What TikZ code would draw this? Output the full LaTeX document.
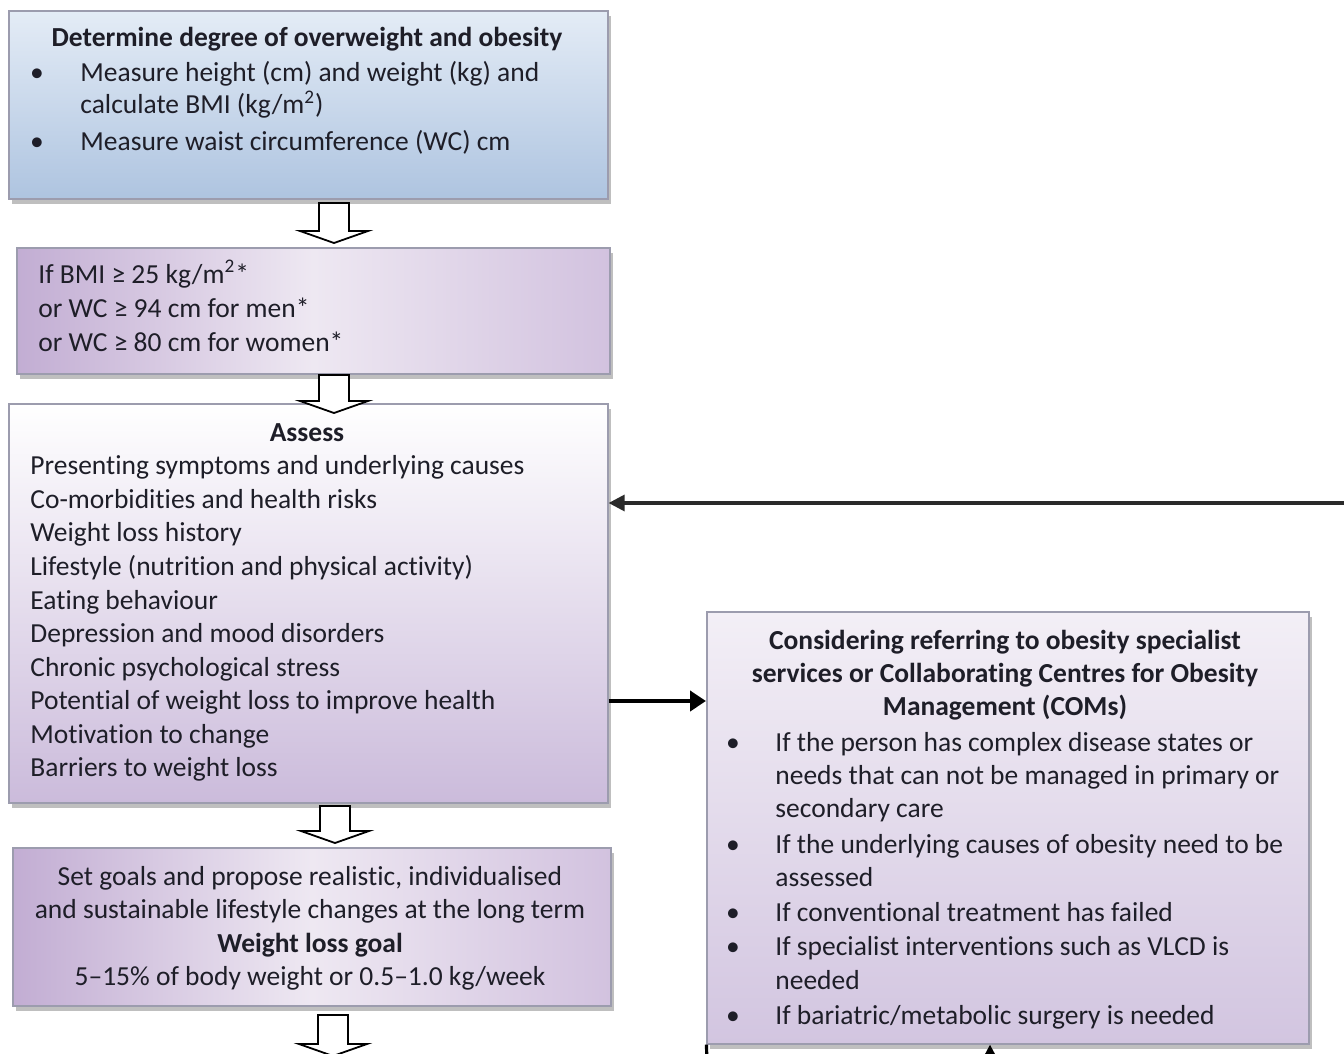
\documentclass[tikz,border=0pt]{standalone}
\usepackage{fontspec}
\setmainfont[Ligatures=NoCommon]{Carlito}
\usetikzlibrary{shadows,arrows.meta,calc}
\definecolor{bordc}{HTML}{9C9CAE}
\definecolor{blueT}{HTML}{E4ECF6}
\definecolor{blueB}{HTML}{AEC4E0}
\definecolor{purL}{HTML}{C2ADD3}
\definecolor{purM}{HTML}{EEE8F2}
\definecolor{purR}{HTML}{D2C2DF}
\definecolor{lilB}{HTML}{CBBBDB}
\definecolor{lilB2}{HTML}{D2C5E0}
\definecolor{lilT2}{HTML}{F3EFF6}
\definecolor{txtc}{HTML}{1E1E28}
\definecolor{arrc}{HTML}{2A2A2A}
\begin{document}
\begin{tikzpicture}[x=0.5pt,y=-0.5pt,
  boxbase/.style={draw=bordc, line width=0.8pt, inner sep=0pt, anchor=north west,
     drop shadow={shadow xshift=1.5pt, shadow yshift=-2.5pt, fill=black!55, opacity=0.45}},
  bluebox/.style={boxbase, top color=blueT, bottom color=blueB},
  purbox/.style={boxbase, left color=purL, right color=purR, middle color=purM},
  assbox/.style={boxbase, top color=white, bottom color=lilB},
  refbox/.style={boxbase, top color=lilT2, bottom color=lilB2},
  txt/.style={inner sep=0pt, anchor=base west, text=txtc, font=\fontsize{13.75}{16.8}\selectfont},
  ctxt/.style={txt, anchor=base},
  btxt/.style={ctxt, font=\fontsize{13.75}{16.8}\selectfont\bfseries},
  bul/.style={txt, anchor=base},
  harrow/.style={draw=black, line width=0.9pt, fill=white, line join=miter},
]
\useasboundingbox (0,0) rectangle (1344,1054);
\begin{scope}
\clip (0,0) rectangle (1344,1054);
\fill[white] (0,0) rectangle (1344,1054);

% boxes
\node[bluebox, minimum width=299.5pt, minimum height=94pt] (b1) at (8,10) {};
\node[purbox, minimum width=296.5pt, minimum height=63pt] (b2) at (16,247) {};
\node[assbox, minimum width=299.5pt, minimum height=199.5pt] (b3) at (8,403) {};
\node[purbox, minimum width=299pt, minimum height=79pt] (b4) at (12,847) {};
\node[refbox, minimum width=301pt, minimum height=216pt] (b5) at (706,611) {};

\begin{scope}[yshift=-1pt]
% box 1 text
\node[btxt] (t1) at (307,45) {Determine degree of overweight and obesity};
\node[bul] (t1b1) at (37,80) {\textbullet};
\node[txt] (t1a) at (80,80) {Measure height (cm) and weight (kg) and};
\node[txt] (t1b) at (80,112) {calculate BMI (kg/m\textsuperscript{2})};
\node[bul] (t1b2) at (37,148) {\textbullet};
\node[txt] (t1c) at (80,148) {Measure waist circumference (WC) cm};

% box 2 text
\node[txt] (t2a) at (38,281) {If BMI ≥ 25 kg/m\textsuperscript{2}*};
\node[txt] (t2b) at (38,315) {or WC ≥ 94 cm for men*};
\node[txt] (t2c) at (38,349) {or WC ≥ 80 cm for women*};

% box 3 text
\node[btxt] (t3) at (307,439) {Assess};
\foreach \yy/\tt [count=\i] in {
  472/{Presenting symptoms and underlying causes},
  506/{Co-morbidities and health risks},
  539/{Weight loss history},
  573/{Lifestyle (nutrition and physical activity)},
  607/{Eating behaviour},
  640/{Depression and mood disorders},
  674/{Chronic psychological stress},
  707/{Potential of weight loss to improve health},
  741/{Motivation to change},
  774/{Barriers to weight loss}}
  \node[txt] (a\i) at (30,\yy) {\tt};

% box 4 text
\node[ctxt] (t4a) at (310,883) {Set goals and propose realistic, individualised};
\node[ctxt] (t4b) at (310,916) {and sustainable lifestyle changes at the long term};
\node[btxt] (t4c) at (310,950) {Weight loss goal};
\node[ctxt] (t4d) at (310,983) {5–15\% of body weight or 0.5–1.0 kg/week};

% box 5 text
\node[btxt] (t5a) at (1005,647) {Considering referring to obesity specialist};
\node[btxt] (t5b) at (1005,680) {services or Collaborating Centres for Obesity};
\node[btxt] (t5c) at (1005,713) {Management (COMs)};
\foreach \yy in {749,851,919,953,1022}
  \node[bul] (rb\yy) at (733,\yy) {\textbullet};
\foreach \yy/\tt [count=\i] in {
  749/{If the person has complex disease states or},
  782/{needs that can not be managed in primary or},
  815/{secondary care},
  851/{If the underlying causes of obesity need to be},
  884/{assessed},
  919/{If conventional treatment has failed},
  953/{If specialist interventions such as VLCD is},
  987/{needed},
  1022/{If bariatric/metabolic surgery is needed}}
  \node[txt] (r\i) at (775,\yy) {\tt};
\end{scope}

% hollow block arrows
\newcommand\hollowarr[3]{%
  \draw[harrow] (#1-15,#2) -- (#1+15,#2) -- (#1+15,#3-12) -- (#1+34,#3-12)
    -- (#1,#3) -- (#1-34,#3-12) -- (#1-15,#3-12) -- cycle;}
\hollowarr{334}{203}{243}
\hollowarr{334}{375}{413}
\hollowarr{335}{806}{843}
\hollowarr{333}{1015}{1056}

% connectors
\coordinate (inR) at (1350,503);
\draw[arrc, line width=1.6pt, -{Triangle[length=8pt,width=8pt]}] (inR) -- (inR -| b3.east);
\coordinate (th) at (b3.east |- 0,701);
\draw[black, line width=2.4pt, -{Triangle[length=8pt,width=10pt]}] (th) -- (th -| b5.west);
\coordinate (dl) at (707,1070);
\draw[black, line width=1.6pt] (b5.south west) ++(0.5,0) -- (dl);
\coordinate (ul) at (990,1090);
\draw[black, line width=1.6pt, -{Triangle[length=8pt,width=8pt]}] (ul) -- (ul |- b5.south);
\end{scope}
\end{tikzpicture}
\end{document}
